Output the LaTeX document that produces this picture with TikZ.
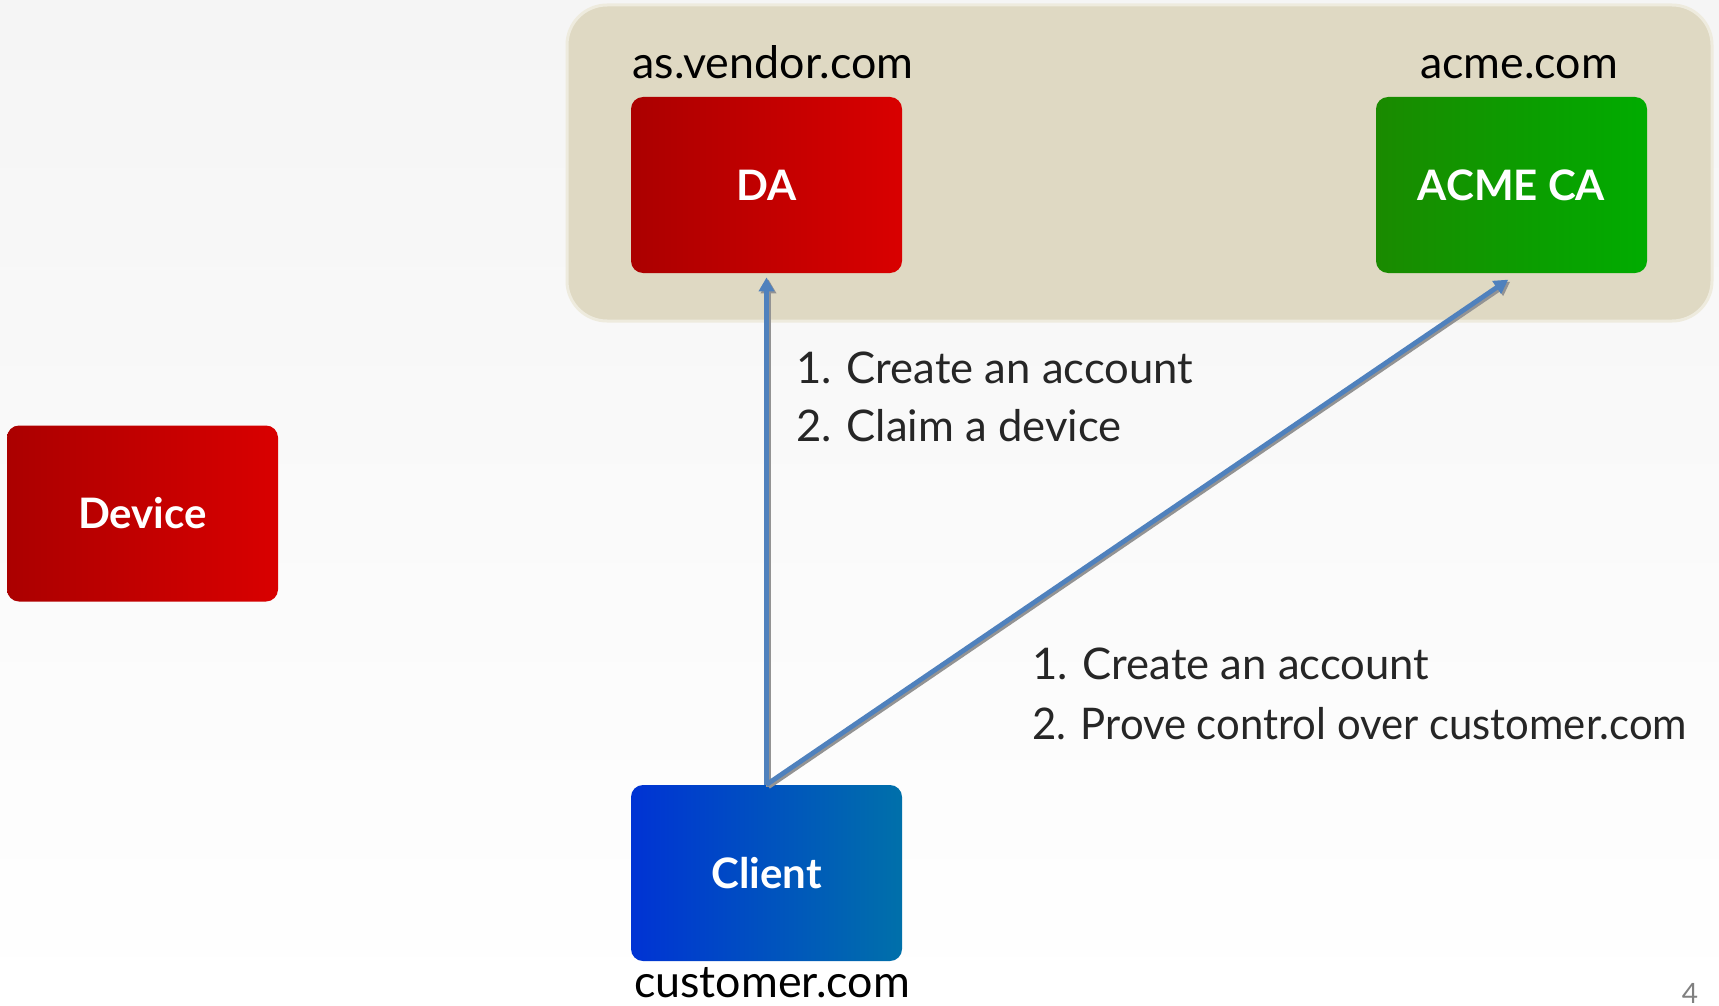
\documentclass[tikz,border=0pt]{standalone}
\usepackage{fontspec}
\setmainfont{Lato}
\usetikzlibrary{arrows.meta,positioning,shadings}
\definecolor{tanzone}{RGB}{223,217,195}
\definecolor{tanedge}{RGB}{238,235,222}
\definecolor{arrowblue}{RGB}{79,129,189}
\definecolor{textgray}{RGB}{38,38,38}

\tikzset{
  box/.style={rounded corners=6pt, minimum width=135.5pt, minimum height=88pt,
    text=white, font=\fontsize{21}{24}\selectfont\bfseries, shading=axis, shading angle=90},
  redbox/.style={box, left color=red!67!black, right color=red!85!black},
  greenbox/.style={box, left color={rgb,255:red,26;green,138;blue,0}, right color={rgb,255:red,0;green,172;blue,0}},
  bluebox/.style={box, left color={rgb,255:red,0;green,51;blue,212}, right color={rgb,255:red,0;green,112;blue,170}},
  sitename/.style={font=\fontsize{22.4}{26}\selectfont, text=black, inner sep=0pt, anchor=base},
  steps/.style={font=\fontsize{21.8}{26}\selectfont, text=textgray, inner sep=0pt, anchor=west},
  link/.style={draw=arrowblue, line width=2.4pt, shorten >=2pt, -{Triangle[length=7pt,width=7.5pt]},
    preaction={draw=gray!85, line width=2.4pt, shorten >=2pt, -{Triangle[length=7pt,width=7.5pt]}, transform canvas={shift={(1pt,-1pt)}}}}
}

\begin{document}
\begin{tikzpicture}[x=0.5pt,y=-0.5pt]
  % page background
  \shade[top color=black!4, bottom color=white] (0,0) rectangle (1719,1006);
  \useasboundingbox (0,0) rectangle (1719,1006);

  % vendor zone
  \draw[fill=tanzone, draw=tanedge, line width=1.5pt, rounded corners=20pt] (567,5) rectangle (1712,321);
  \node[sitename] (vendorname) at (773,79) {as.vendor.com};
  \node[sitename] (acmename) at (1519,79) {acme.com};

  % boxes
  \node[redbox] (da) at (766.5,185) {DA};
  \node[greenbox] (acme) at (1511.5,185) {ACME CA};
  \node[redbox] (device) at (142.5,513.5) {Device};
  \node[bluebox] (client) at (766.5,873) {Client};
  \node[sitename] (custname) at (772,997) {customer.com};

  % requests
  \draw[link] (client.north) -- (da.south);
  \draw[link] (client.north) -- ([yshift=-2pt]acme.south);

  % step labels
  \node[steps] (dastep1) at (796,368) {1. Create an account};
  \node[steps] (dastep2) at (796,426) {2. Claim a device};
  \node[steps] (castep1) at (1032,664) {1. Create an account};
  \node[steps, xscale=0.96] (castep2) at (1032,724) {2. Prove control over customer.com};

  % page number
  \node[font=\fontsize{14}{16}\selectfont, text=gray, inner sep=0pt] (pagenum) at (1690,993) {4};
\end{tikzpicture}
\end{document}
